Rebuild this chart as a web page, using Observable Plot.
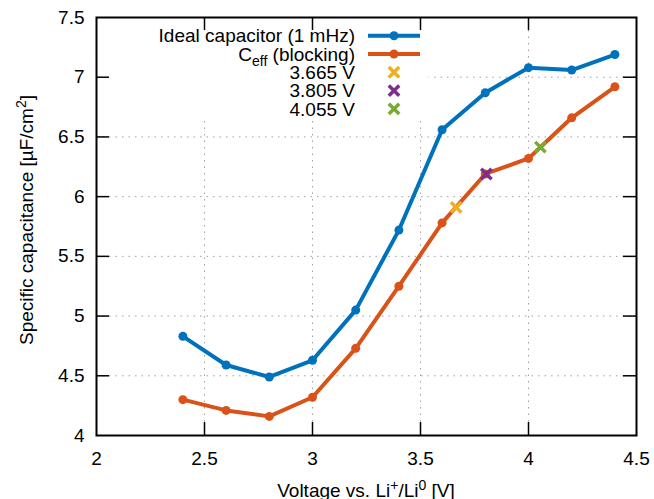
<!DOCTYPE html>
<html><head><meta charset="utf-8">
<script src="https://cdn.jsdelivr.net/npm/d3@7"></script>
<script src="https://cdn.jsdelivr.net/npm/@observablehq/plot@0.6"></script>
<style>body{margin:0;background:#fff;} svg{display:block;}</style>
</head><body><div id="chart"></div>
<script>
// ---- data ----
const voltages = [2.4, 2.6, 2.8, 3.0, 3.2, 3.4, 3.6, 3.8, 4.0, 4.2, 4.4];
const idealCap = [4.83, 4.59, 4.49, 4.63, 5.05, 5.72, 6.56, 6.87, 7.08, 7.06, 7.19];
const ceffBlocking = [4.30, 4.21, 4.16, 4.32, 4.73, 5.25, 5.78, 6.19, 6.32, 6.66, 6.92];
const markerVoltages = [3.665, 3.805, 4.055];
const markerValues = [5.91, 6.19, 6.415];
const markerLabels = ["3.665 V", "3.805 V", "4.055 V"];
const markerColors = ["#edb120", "#7e2f8e", "#77ac30"];
const seriesNames = ["Ideal capacitor (1 mHz)", "Ceff (blocking)"];
const seriesColors = ["#0072bd", "#d95319"];
const xTicks = [2, 2.5, 3, 3.5, 4, 4.5];
const yTicks = [4, 4.5, 5, 5.5, 6, 6.5, 7, 7.5];

const lineData = [
  ...voltages.map((v, i) => ({x: v, y: idealCap[i], s: seriesNames[0]})),
  ...voltages.map((v, i) => ({x: v, y: ceffBlocking[i], s: seriesNames[1]}))
];
const markerData = markerVoltages.map((v, i) => ({x: v, y: markerValues[i], c: markerColors[i]}));

const font = "'Liberation Sans', Arial, sans-serif";
const W = 654, H = 499, mL = 96, mR = 18, mT = 17, mB = 64;
const fw = W - mL - mR, fh = H - mT - mB, tick = 13;
const gridStyle = {stroke: "#a0a0a0", strokeOpacity: 1, strokeWidth: 1, strokeDasharray: "1.5,5"};
const tickStyle = {stroke: "#000", strokeWidth: 1.5};
const innerX = xTicks.slice(1, -1), innerY = yTicks.slice(1, -1);

const plot = Plot.plot({
  width: W, height: H,
  marginLeft: mL, marginRight: mR, marginTop: mT, marginBottom: mB,
  style: {fontFamily: font, fontSize: "19px", color: "#000", background: "#fff", overflow: "visible"},
  x: {domain: [2, 4.5], label: null},
  y: {domain: [4, 7.5], label: null},
  color: {domain: seriesNames, range: seriesColors},
  marks: [
    Plot.gridX(innerX, gridStyle),
    Plot.gridY(innerY, gridStyle),
    // opaque legend box
    Plot.frame({fill: "white", stroke: null, insetLeft: 0, insetRight: 208, insetTop: 0, insetBottom: 315}),
    Plot.axisX(xTicks, {anchor: "bottom", tickSize: 0, tickPadding: 16, label: null, fontSize: 19, tickFormat: d => String(d)}),
    Plot.axisY(yTicks, {anchor: "left", tickSize: 0, tickPadding: 12, label: null, fontSize: 19, tickFormat: d => String(d)}),
    // inward ticks (bottom/top, left/right)
    Plot.ruleX(innerX, {x: d => d, insetTop: fh - tick, ...tickStyle}),
    Plot.ruleX(innerX, {x: d => d, insetBottom: fh - tick, ...tickStyle}),
    Plot.ruleY(innerY, {y: d => d, insetRight: fw - tick, ...tickStyle}),
    Plot.ruleY(innerY, {y: d => d, insetLeft: fw - tick, ...tickStyle}),
    Plot.frame({stroke: "#000", strokeWidth: 2}),
    Plot.line(lineData, {x: "x", y: "y", z: "s", stroke: "s", strokeWidth: 4, strokeLinejoin: "round"}),
    Plot.dot(lineData, {x: "x", y: "y", fill: "s", r: 4.5, stroke: null}),
    Plot.dot(markerData, {x: "x", y: "y", symbol: "times", stroke: d => d.c, r: 4.8, strokeWidth: 3.5})
  ]
});
document.getElementById("chart").appendChild(plot);

const svg = d3.select(plot);
// axis labels with super/subscripts
const xl = svg.append("text").attr("x", (mL + W - mR) / 2).attr("y", 497)
  .attr("text-anchor", "middle").style("font-family", font).style("font-size", "19px").attr("fill", "#000");
xl.append("tspan").text("Voltage vs. Li");
xl.append("tspan").attr("dy", -7).style("font-size", "14px").text("+");
xl.append("tspan").attr("dy", 7).text("/Li");
xl.append("tspan").attr("dy", -7).style("font-size", "14px").text("0");
xl.append("tspan").attr("dy", 7).text(" [V]");

const yl = svg.append("text").attr("transform", "translate(33,220) rotate(-90)")
  .attr("text-anchor", "middle").style("font-family", font).style("font-size", "19px").attr("fill", "#000");
yl.append("tspan").text("Specific capacitance [µF/cm");
yl.append("tspan").attr("dy", -7).style("font-size", "14px").text("2");
yl.append("tspan").attr("dy", 7).text("]");

// legend
const lg = svg.append("g").style("font-family", font).style("font-size", "19px");
const rowY = i => 35.7 + i * 18.3;
const textRight = 355, lx1 = 368, lx2 = 420, lxc = 394;
seriesNames.forEach((name, i) => {
  const t = lg.append("text").attr("x", textRight).attr("y", rowY(i)).attr("dy", "0.35em")
    .attr("text-anchor", "end").attr("fill", "#000");
  if (i === 1) {
    t.append("tspan").text("C");
    t.append("tspan").attr("dy", 5).style("font-size", "14px").text("eff");
    t.append("tspan").attr("dy", -5).text(" (blocking)");
  } else t.text(name);
  lg.append("line").attr("x1", lx1).attr("x2", lx2).attr("y1", rowY(i)).attr("y2", rowY(i))
    .attr("stroke", seriesColors[i]).attr("stroke-width", 4);
  lg.append("circle").attr("cx", lxc).attr("cy", rowY(i)).attr("r", 4.5).attr("fill", seriesColors[i]);
});
const cross = d3.symbol(d3.symbolTimes, 4.8 * 4.8 * Math.PI)();
markerLabels.forEach((lab, j) => {
  const i = j + 2;
  lg.append("text").attr("x", textRight).attr("y", rowY(i)).attr("dy", "0.35em")
    .attr("text-anchor", "end").attr("fill", "#000").text(lab);
  lg.append("path").attr("d", cross).attr("transform", `translate(${lxc},${rowY(i)})`)
    .attr("fill", "none").attr("stroke", markerColors[j]).attr("stroke-width", 3.5);
});
</script>
</body></html>
